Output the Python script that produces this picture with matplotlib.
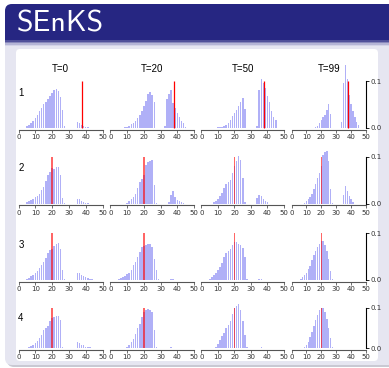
import numpy as np
import matplotlib.pyplot as plt
from matplotlib.patches import FancyBboxPatch, Rectangle

W, H = 389, 368

# histogram bins: centres every 1.25 from 3.75 to 45
centres = np.arange(3, 37) * 1.25
times = ['T=0', 'T=20', 'T=50', 'T=99']
rows = ['1', '2', '3', '4']
truth = [38, 20, 20, 20]
truth_h = 0.1

# row 1
r1_t0 = [0, .003, .006, .010, .015, .021, .028, .035, .042, .050,
         .056, .062, .068, .074, .080, .083, .078, .066, .038, .004,
         0, 0, 0, 0, 0, .012, .010, .006, .004, .002,
         .001, 0, 0, 0]
r1_t20 = [0, 0, 0, 0, .001, .002, .004, .007, .011, .015,
          .021, .028, .036, .046, .058, .072, .076, .070, .056, 0,
          0, 0, 0, .004, .062, .073, .080, .053, .042, .031,
          .022, .015, .009, .002]
r1_t50 = [0, 0, 0, 0, 0, .001, .002, .002, .004, .006,
          .010, .016, .024, .031, .038, .046, .055, .064, .039, 0,
          0, 0, 0, 0, .004, .080, .105, .095, .085, .068,
          .055, .035, .022, .016]
r1_t99 = [0, 0, 0, 0, 0, 0, 0, 0, 0, 0,
          .002, .004, .009, .016, .022, .027, .038, .050, .030, 0,
          0, 0, 0, 0, .012, .095, .135, .105, .070, .050,
          .035, .022, .012, .005]
# row 2
r2_t0 = [0, .003, .005, .007, .010, .013, .017, .021, .028, .036,
         .048, .060, .068, .076, .074, .078, .078, .062, .012, .002,
         0, 0, 0, 0, 0, .009, .009, .006, .004, .002,
         .001, 0, 0, 0]
r2_t20 = [0, 0, 0, 0, 0, .002, .005, .009, .014, .021,
          .033, .045, .052, .060, .082, .089, .091, .094, .040, .002,
          0, 0, 0, 0, 0, .004, .018, .027, .014, .007,
          .005, .003, .002, 0]
r2_t50 = [0, 0, 0, .003, .006, .009, .016, .023, .033, .042,
          .046, .050, .065, .080, .092, .102, .094, .055, .003, 0,
          0, 0, 0, 0, .012, .019, .017, .010, .006, .003,
          0, 0, 0, 0]
r2_t99 = [0, 0, 0, 0, .002, .005, .009, .013, .021, .030,
          .041, .055, .066, .080, .104, .110, .113, .091, .032, .002,
          0, 0, 0, 0, 0, .019, .037, .026, .016, .009,
          .004, 0, 0, 0]
# row 3
r3_t0 = [0, .003, .005, .008, .011, .015, .020, .026, .032, .039,
         .048, .058, .065, .067, .073, .078, .080, .067, .021, .002,
         0, 0, 0, 0, 0, .016, .016, .011, .009, .006,
         .004, .003, .002, 0]
r3_t20 = [0, .002, .004, .006, .009, .012, .016, .021, .032, .039,
          .050, .060, .071, .072, .074, .078, .078, .071, .044, .021,
          .002, 0, 0, 0, 0, 0, .002, .002, 0, 0,
          0, 0, 0, 0]
r3_t50 = [0, .003, .006, .011, .016, .021, .028, .037, .050, .058,
          .063, .067, .074, .082, .082, .078, .076, .069, .050, .003,
          0, 0, 0, 0, 0, .002, .002, 0, 0, 0,
          0, 0, 0, 0]
r3_t99 = [0, 0, .003, .006, .010, .016, .023, .031, .042, .054,
          .062, .070, .078, .083, .083, .074, .062, .045, .020, .003,
          0, 0, 0, 0, 0, 0, .001, 0, 0, 0,
          0, 0, 0, 0]
# row 4
r4_t0 = [0, 0, .003, .005, .007, .012, .018, .025, .033, .045,
         .050, .055, .066, .074, .078, .080, .080, .070, .004, 0,
         0, 0, 0, 0, 0, .015, .014, .008, .007, .004,
         .003, .002, 0, 0]
r4_t20 = [0, 0, 0, 0, .001, .003, .008, .015, .023, .034,
          .049, .059, .078, .090, .094, .097, .093, .090, .045, .003,
          0, 0, 0, 0, 0, 0, .003, 0, 0, 0,
          0, 0, 0, 0]
r4_t50 = [0, 0, 0, 0, .004, .010, .020, .029, .037, .051,
          .058, .066, .084, .098, .105, .108, .094, .066, .033, .004,
          0, 0, 0, 0, 0, 0, .002, 0, 0, 0,
          0, 0, 0, 0]
r4_t99 = [0, 0, 0, 0, .003, .008, .015, .028, .040, .055,
          .070, .082, .095, .100, .098, .088, .072, .050, .025, .003,
          0, 0, 0, 0, 0, 0, 0, 0, 0, 0,
          0, 0, 0, 0]

heights = [[r1_t0, r1_t20, r1_t50, r1_t99],
           [r2_t0, r2_t20, r2_t50, r2_t99],
           [r3_t0, r3_t20, r3_t50, r3_t99],
           [r4_t0, r4_t20, r4_t50, r4_t99]]

# layout in pixels (x of data 0 and 50, baseline y and px per unit of y)
col_x = [(18.5, 102.5), (110.5, 194), (201.5, 284), (291.5, 366)]
row_base = [(127.7, 467), (203.5, 467), (280, 467), (348.3, 407)]
ylo, yhi = -0.004, 0.14

fig = plt.figure(figsize=(W / 100, H / 100), dpi=100)

# slide background
bg = fig.add_axes([0, 0, 1, 1])
bg.set_xlim(0, W)
bg.set_ylim(H, 0)
bg.axis('off')
bg.add_patch(FancyBboxPatch((7, 6), 400, 361, boxstyle='round,pad=0,rounding_size=7',
                            fc='#c9c9d3', ec='none'))
bg.add_patch(FancyBboxPatch((5, 4), 400, 361, boxstyle='round,pad=0,rounding_size=7',
                            fc='#e6e6f1', ec='none'))
bg.add_patch(FancyBboxPatch((5, 4), 400, 46, boxstyle='round,pad=0,rounding_size=7',
                            fc='#262682', ec='none'))
grad = ['#50509a', '#8888bb', '#b5b5d6', '#d4d4e8']
for i, c in enumerate(grad):
    bg.add_patch(Rectangle((5, 40 + 1.5 * i), 400, 1.5, fc=c, ec='none'))
bg.add_patch(Rectangle((5, 46), 400, 10, fc='#e6e6f1', ec='none'))
bg.add_patch(FancyBboxPatch((16, 49), 362, 312, boxstyle='round,pad=0,rounding_size=4',
                            fc='white', ec='none'))
bg.text(17, 24, 'SEnKS', color='white', fontsize=21.5, family='cmss10',
        va='center', ha='left')

for r in range(4):
    base, scale = row_base[r]
    for c in range(4):
        x0, x1 = col_x[c]
        ybot = base - ylo * scale
        ytop = base - yhi * scale
        ax = fig.add_axes([x0 / W, 1 - ybot / H, (x1 - x0) / W, (ybot - ytop) / H])
        ax.patch.set_visible(False)
        ax.set_xlim(0, 50)
        ax.set_ylim(ylo, yhi)
        ax.bar(centres, heights[r][c], width=0.95, color='#b0b0f7', linewidth=0)
        if r == 0:
            ax.vlines(truth[r], 0, truth_h, color='red', lw=0.9)
        else:
            ax.bar(truth[r], truth_h, width=1.0, color='red', alpha=0.6, linewidth=0)
        for s in ['top', 'left', 'right']:
            ax.spines[s].set_visible(False)
        ax.spines['bottom'].set_bounds(0, 50)
        ax.spines['bottom'].set_color('#555555')
        ax.spines['bottom'].set_linewidth(0.8)
        ax.set_xticks([0, 10, 20, 30, 40, 50])
        ax.tick_params(axis='x', length=2, width=0.6, color='#555555', pad=1,
                       labelsize=5, labelcolor='#333333')
        ax.set_yticks([])
        if c == 3:
            ax.spines['right'].set_visible(True)
            ax.spines['right'].set_bounds(0, 0.1)
            ax.spines['right'].set_linewidth(0.8)
            ax.yaxis.tick_right()
            ax.set_yticks([0, 0.1])
            ax.set_yticklabels(['0.0', '0.1'])
            ax.tick_params(axis='y', length=2, width=0.6, pad=1, labelsize=5,
                           labelcolor='#333333')
        if r == 0:
            fig.text((x0 + x1) / 2 / W, 1 - 69 / H, times[c], fontsize=7,
                     family='Liberation Sans', ha='center', va='center')
    fig.text(21 / W, 1 - (base - (35 if r < 3 else 30)) / H, rows[r], fontsize=7,
             family='Liberation Sans', ha='center', va='center')

fig.savefig('out.png', dpi=100)
